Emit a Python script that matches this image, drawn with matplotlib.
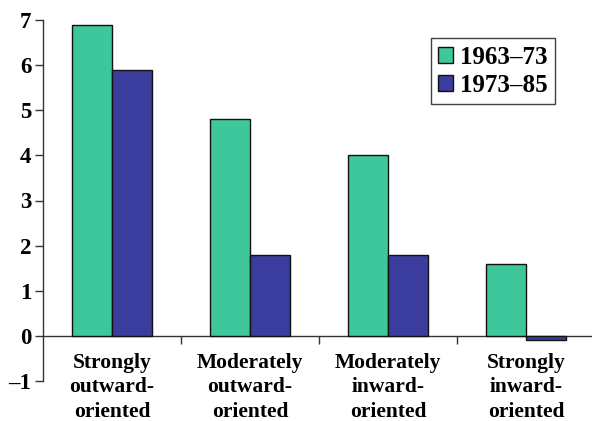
import matplotlib
matplotlib.use("Agg")
import matplotlib.pyplot as plt
import numpy as np

categories = ["Strongly\noutward-\noriented", "Moderately\noutward-\noriented",
              "Moderately\ninward-\noriented", "Strongly\ninward-\noriented"]
series_names = ["1963\u201373", "1973\u201385"]
values_6373 = [6.9, 4.8, 4.0, 1.6]
values_7385 = [5.9, 1.8, 1.8, -0.1]
yticks = [-1, 0, 1, 2, 3, 4, 5, 6, 7]

green = "#3EC79B"
blue = "#3A3D9E"

plt.rcParams["font.family"] = ["Liberation Serif", "DejaVu Serif"]
plt.rcParams["font.weight"] = "bold"

fig = plt.figure(figsize=(5.92, 4.21), dpi=100)
ax = fig.add_axes([43 / 592, 1 - 381 / 421, (595 - 43) / 592, (381 - 20) / 421])

x = np.arange(len(categories))
w = 0.29
ax.bar(x - w / 2, values_6373, w, color=green, edgecolor="#111111", linewidth=1.0,
       label=series_names[0], zorder=3)
ax.bar(x + w / 2, values_7385, w, color=blue, edgecolor="#111111", linewidth=1.0,
       label=series_names[1], zorder=3)

ax.set_xlim(-0.5, len(categories) - 0.5)
ax.set_ylim(-1, 7)
ax.set_yticks(yticks)
ax.set_yticklabels(["\u2013" + "1" if v == -1 else str(v) for v in yticks], fontsize=16.5,
                   fontweight="bold")

ax.spines["top"].set_visible(False)
ax.spines["right"].set_visible(False)
ax.spines["bottom"].set_position(("data", 0))
for s in ("left", "bottom"):
    ax.spines[s].set_color("#333333")
    ax.spines[s].set_linewidth(1.0)

# group separators as major ticks, category names on minor ticks
ax.set_xticks(np.arange(0.5, len(categories) - 0.5, 1.0))
ax.set_xticklabels([])
ax.set_xticks(x, minor=True)
ax.set_xticklabels(categories, minor=True, fontsize=15.5, fontweight="bold",
                   linespacing=1.3)
ax.tick_params(axis="x", which="major", direction="out", length=6, width=1.0,
               color="#333333")
ax.tick_params(axis="x", which="minor", length=0, pad=12)
ax.tick_params(axis="y", direction="out", length=6, width=1.0, color="#333333", pad=2.5)

leg = ax.legend(loc="upper right", bbox_to_anchor=(0.927, 0.95),
                prop={"weight": "bold", "size": 18}, frameon=True, fancybox=False,
                handlelength=0.6, handleheight=0.6, handletextpad=0.25,
                borderpad=0.3, labelspacing=0.2, borderaxespad=0)
leg.get_frame().set_edgecolor("#111111")
leg.get_frame().set_linewidth(1.0)

fig.savefig("out.png", dpi=100)
